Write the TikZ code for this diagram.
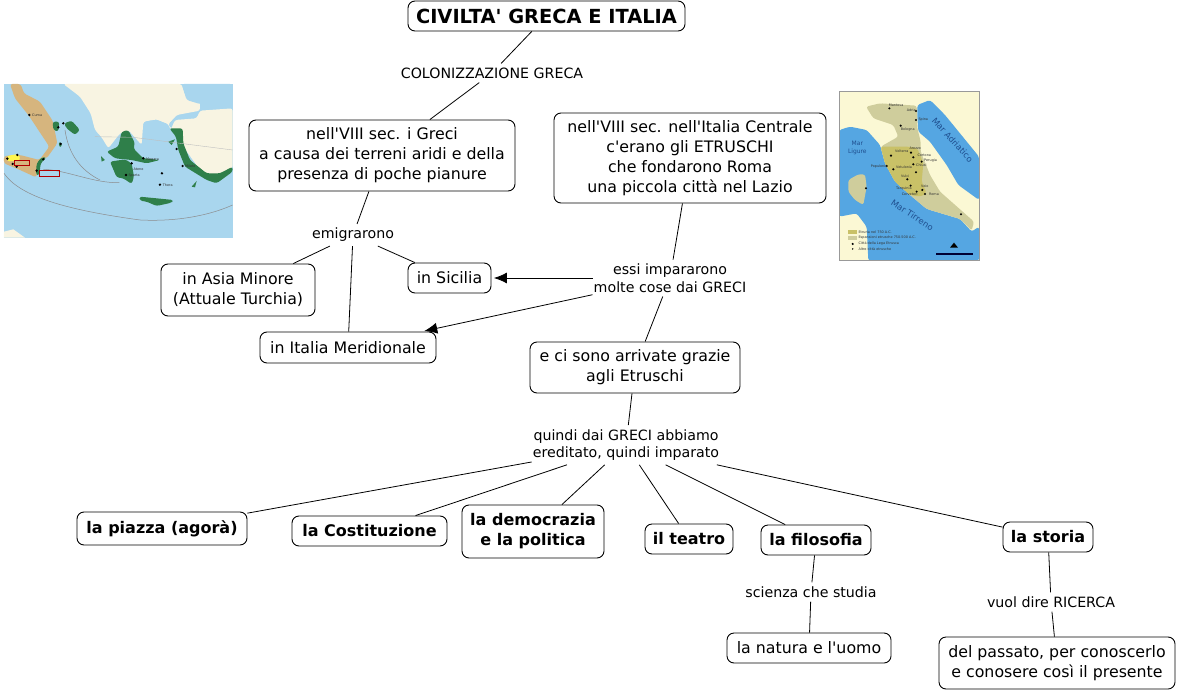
\documentclass[tikz,border=0pt]{standalone}
\usepackage{fontspec}
\defaultfontfeatures[\rmfamily]{}
\setmainfont{DejaVu Sans}
\usetikzlibrary{arrows.meta}
\newcommand{\ap}{'}
\definecolor{seaA}{HTML}{A9D6EE}
\definecolor{landA}{HTML}{F8F4E2}
\definecolor{tanA}{HTML}{D6B57E}
\definecolor{greenA}{HTML}{2F7F4A}
\definecolor{seaB}{HTML}{55A6E2}
\definecolor{landB}{HTML}{FBF8D4}
\definecolor{etrB}{HTML}{C9C167}
\definecolor{expB}{HTML}{CFCD9C}
\definecolor{inkB}{HTML}{1F4F8F}
\tikzset{
  concept/.style={draw=black,line width=0.9pt,rounded corners=7pt,fill=white,inner sep=0pt,align=center,font=\fontsize{15.8}{20}\selectfont},
  boldc/.style={concept,font=\fontsize{16}{20}\selectfont\bfseries},
  linkl/.style={inner xsep=1pt,inner ysep=4pt,align=center,font=\fontsize{14.2}{17.5}\selectfont},
  conn/.style={draw=black,line width=0.8pt},
  arr/.style={conn,-{Latex[length=13pt,width=11pt]},shorten >=2.5pt},
  maptxt/.style={font=\fontsize{3.4}{4}\selectfont,text=black!80,inner sep=0pt,anchor=west},
  seatxt/.style={font=\fontsize{8.5}{10}\selectfont,text=inkB,inner sep=0pt,align=center},
  coast/.style={rounded corners=2.5pt}
}
\begin{document}
\begin{tikzpicture}[x=1pt,y=-1pt]
\useasboundingbox (0,0) rectangle (1177,690);
% left map
\begin{scope}[xshift=0pt,yshift=-80pt,x=0.3333pt,y=-0.3333pt]
\fill[seaA] (12,12) rectangle (698,473);
\fill[landA,coast] (190,12) -- (240,50) -- (272,100) -- (285,150) -- (305,172) -- (325,205) -- (360,160) -- (385,150) -- (425,195) -- (430,125) -- (470,118) -- (505,132) -- (512,150) -- (525,120) -- (590,115) -- (600,92) -- (698,85) -- (698,265) -- (640,300) -- (600,270) -- (550,200) -- (520,150) -- (508,140) -- (505,132) -- (530,105) -- (560,60) -- (545,12) -- cycle;
\fill[landA,coast] (470,118) -- (505,132) -- (530,105) -- (600,92) -- (600,40) -- (400,40) -- cycle;
\fill[seaA,coast] (545,12) -- (698,12) -- (698,72) -- (600,72) -- (560,60) -- cycle;
\fill[landA] (12,455) -- (40,448) -- (75,473) -- (12,473) -- cycle;
\fill[tanA,coast] (30,12) -- (62,12) -- (72,40) -- (120,65) -- (158,122) -- (172,190) -- (140,235) -- (128,232) -- (108,292) -- (60,270) -- (12,250) -- (12,228) -- (60,225) -- (118,240) -- (148,200) -- (115,150) -- (85,105) -- (45,55) -- cycle;
\fill[yellow!70!white,coast] (20,228) -- (55,222) -- (62,240) -- (22,245) -- cycle;
\fill[greenA,coast] (158,125) -- (178,125) -- (175,155) -- (160,150) -- cycle;
\fill[greenA,coast] (192,130) -- (215,122) -- (240,150) -- (225,165) -- (200,145) -- cycle;
\fill[greenA,coast] (175,185) -- (188,190) -- (180,205) -- cycle;
\fill[greenA,coast] (108,285) -- (110,250) -- (125,232) -- (140,232) -- (122,250) -- (118,285) -- cycle;
\fill[greenA,coast] (320,215) -- (355,200) -- (365,155) -- (385,150) -- (405,190) -- (400,205) -- (430,235) -- (480,240) -- (440,250) -- (395,240) -- (345,235) -- cycle;
\fill[greenA,coast] (330,245) -- (375,238) -- (395,250) -- (402,290) -- (395,312) -- (370,295) -- (350,292) -- cycle;
\fill[greenA] (303,228) -- (315,240) -- (305,245) -- cycle;
\fill[greenA,coast] (508,145) -- (548,145) -- (550,190) -- (570,240) -- (620,280) -- (660,280) -- (698,260) -- (698,275) -- (650,310) -- (620,300) -- (555,260) -- (535,210) -- (528,170) -- cycle;
\fill[greenA] (505,185) -- (525,178) -- (515,195) -- cycle;
\fill[greenA] (575,320) -- (590,303) -- (585,322) -- cycle;
\fill[greenA,coast] (418,350) -- (470,355) -- (520,360) -- (515,368) -- (470,378) -- (440,365) -- (420,362) -- cycle;
\draw[black!45,line width=0.5pt] (12,280) .. controls (60,350) and (200,390) .. (420,420) .. controls (520,425) and (620,410) .. (698,375);
\draw[black!45,line width=0.5pt] (130,268) .. controls (200,270) and (280,310) .. (358,308);
\draw[black!45,line width=0.5pt] (195,150) .. controls (205,220) and (240,270) .. (300,300);
\draw[black!25,line width=0.4pt] (285,170) -- (400,172) -- (698,210);
\foreach \p in {(88,105),(175,142),(190,130),(182,192),(52,225),(22,236),(38,252),(50,260),(130,238),(110,272),(430,235),(395,250),(378,285),(530,207),(548,258),(486,280),(480,314)} \fill[black] \p circle (4);
\draw[red!70!black,line width=0.4pt] (42,241) rectangle (88,257);
\draw[red!70!black,line width=0.4pt] (117,270) rectangle (178,288);
\node[maptxt] at (96,105) {Cuma};
\node[maptxt] at (438,238) {Megara};
\node[maptxt] at (400,267) {Atene};
\node[maptxt] at (385,288) {Sparta};
\node[maptxt] at (555,260) {Mileto};
\node[maptxt] at (488,317) {Thera};
\end{scope}
% right map
\begin{scope}[xshift=830pt,yshift=-85pt,x=0.3333pt,y=-0.3333pt]
\fill[landB] (28,20) rectangle (447,527);
\fill[seaB,coast] (262,60) -- (300,45) -- (345,90) -- (447,215) -- (447,345) -- (385,300) -- (350,240) -- (300,170) -- (265,140) -- (262,95) -- cycle;
\fill[seaB,coast] (28,135) -- (60,125) -- (110,135) -- (150,180) -- (165,235) -- (195,290) -- (240,330) -- (290,372) -- (390,402) -- (425,440) -- (447,425) -- (447,527) -- (115,527) -- (110,425) -- (80,385) -- (28,395) -- cycle;
\fill[expB,coast] (108,65) -- (150,55) -- (260,62) -- (262,130) -- (272,170) -- (272,200) -- (300,270) -- (330,320) -- (432,410) -- (425,437) -- (390,402) -- (290,372) -- (240,330) -- (195,290) -- (165,235) -- (152,185) -- (205,155) -- (190,120) -- (130,100) -- cycle;
\fill[etrB,coast] (152,185) -- (235,185) -- (262,190) -- (280,235) -- (275,290) -- (290,325) -- (270,335) -- (240,330) -- (195,290) -- (165,235) -- cycle;
\fill[expB,coast] (55,285) -- (85,268) -- (105,268) -- (110,305) -- (100,360) -- (75,345) -- (55,320) -- cycle;
\foreach \p in {(178,70),(258,78),(258,105),(212,122),(183,212),(243,203),(250,217),(275,230),(250,238),(170,243),(190,253),(258,262),(232,283),(277,315),(260,320),(285,327),(242,302),(108,310),(393,388)} \fill[black] \p circle (3.5);
\node[maptxt] at (176,60) {Mantova};
\node[maptxt] at (230,77) {Adria};
\node[maptxt] at (265,105) {Spina};
\node[maptxt] at (212,134) {Bologna};
\node[maptxt] at (195,199) {Volterra};
\node[maptxt] at (238,190) {Arezzo};
\node[maptxt] at (262,212) {Cortona};
\node[maptxt] at (282,228) {Perugia};
\node[maptxt] at (258,241) {Chiusi};
\node[maptxt] at (122,246) {Populonia};
\node[maptxt] at (198,247) {Vetulonia};
\node[maptxt] at (213,274) {Vulci};
\node[maptxt] at (198,310) {Tarquinia};
\node[maptxt] at (215,328) {Cerveteri};
\node[maptxt] at (273,304) {Veio};
\node[maptxt] at (297,327) {Roma};
\node[seatxt,rotate=-48] at (368,165) {Mar Adriatico};
\node[seatxt,rotate=-33] at (247,390) {Mar Tirreno};
\node[seatxt,font=\fontsize{6}{8}\selectfont] at (82,190) {Mar\\Ligure};
\fill[etrB] (55,436) rectangle (80,447);
\fill[expB] (55,454) rectangle (80,465);
\fill[black] (68,477) circle (3.5);
\fill[black] (68,492) circle (2.5);
\node[maptxt] at (85,441) {Etruria nel 750 A.C.};
\node[maptxt] at (85,459) {Espansioni etrusche 750-500 A.C.};
\node[maptxt] at (85,477) {Città della Lega Etrusca};
\node[maptxt] at (85,492) {Altre città etrusche};
\fill[black] (360,488) -- (372,473) -- (384,488) -- cycle;
\fill[black!80!blue] (318,504) rectangle (430,509);
\draw[black!40,line width=0.5pt] (28,20) rectangle (447,527);
\end{scope}
% nodes
\node[boldc,minimum width=277pt,minimum height=30pt,font=\fontsize{19.4}{21}\selectfont\bfseries] (title) at (546.5,16) {CIVILTA\ap\ GRECA E ITALIA};
\node[concept,minimum width=266pt,minimum height=71pt] (greci) at (382,155.5) {nell\ap VIII sec. i Greci\\a causa dei terreni aridi e della\\presenza di poche pianure};
\node[concept,minimum width=272pt,minimum height=90pt] (etr) at (690,158) {nell\ap VIII sec. nell\ap Italia Centrale\\c\ap erano gli ETRUSCHI\\che fondarono Roma\\una piccola città nel Lazio};
\node[concept,minimum width=154pt,minimum height=52pt] (asia) at (238,290) {in Asia Minore\\(Attuale Turchia)};
\node[concept,minimum width=83pt,minimum height=30pt] (sic) at (449.5,278) {in Sicilia};
\node[concept,minimum width=176pt,minimum height=31pt] (mer) at (348,347.5) {in Italia Meridionale};
\node[concept,minimum width=210pt,minimum height=51pt] (arr) at (635,367.5) {e ci sono arrivate grazie\\agli Etruschi};
\node[boldc,minimum width=170pt,minimum height=33pt] (piazza) at (162,528.5) {la piazza (agorà)};
\node[boldc,minimum width=155pt,minimum height=30pt] (cost) at (369.5,531) {la Costituzione};
\node[boldc,minimum width=142pt,minimum height=53pt] (demo) at (533,531.5) {la democrazia\\e la politica};
\node[boldc,minimum width=88pt,minimum height=30pt] (teatro) at (689,539) {il teatro};
\node[boldc,minimum width=110pt,minimum height=30pt] (filo) at (816,540) {la filosofia};
\node[boldc,minimum width=90pt,minimum height=30pt] (storia) at (1048,537) {la storia};
\node[concept,minimum width=164pt,minimum height=30pt] (nat) at (809,648) {la natura e l\ap uomo};
\node[concept,minimum width=236pt,minimum height=52pt] (pass) at (1057,663) {del passato, per conoscerlo\\e conosere così il presente};
% link labels
\node[linkl] (lcol) at (492,73) {COLONIZZAZIONE GRECA};
\node[linkl] (lemi) at (353,235) {emigrarono};
\node[linkl] (less) at (670,278) {essi impararono\\molte cose dai GRECI};
\node[linkl] (lqui) at (626,445) {quindi dai GRECI abbiamo\\ereditato, quindi imparato};
\node[linkl] (lsci) at (811,592) {scienza che studia};
\node[linkl] (lric) at (1051,602) {vuol dire RICERCA};
% connectors
\draw[conn] (title) -- (lcol);
\draw[conn] (lcol) -- (greci);
\draw[conn] (greci) -- (lemi);
\draw[conn] (lemi) -- (asia);
\draw[conn] (lemi) -- (sic);
\draw[conn] (lemi) -- (mer);
\draw[conn] (etr) -- (less);
\draw[arr] (less) -- (sic);
\draw[arr] (less) -- (mer);
\draw[conn] (less) -- (arr);
\draw[conn] (arr) -- (lqui);
\draw[conn] (lqui) -- (piazza);
\draw[conn] (lqui) -- (cost);
\draw[conn] (lqui) -- (demo);
\draw[conn] (lqui) -- (teatro);
\draw[conn] (lqui) -- (filo);
\draw[conn] (lqui) -- (storia);
\draw[conn] (filo) -- (lsci);
\draw[conn] (lsci) -- (nat);
\draw[conn] (storia) -- (lric);
\draw[conn] (lric) -- (pass);
\end{tikzpicture}
\end{document}
